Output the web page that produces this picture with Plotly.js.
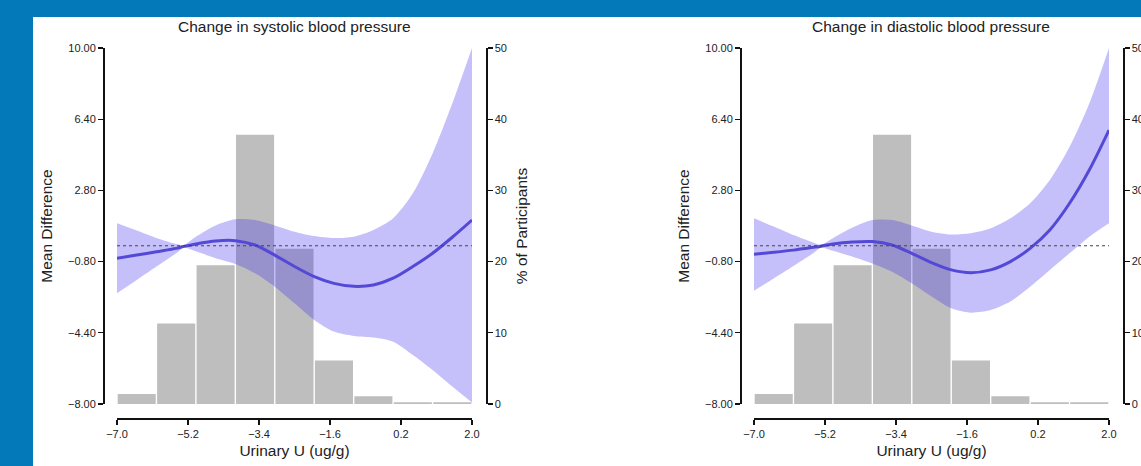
<!DOCTYPE html>
<html>
<head>
<meta charset="utf-8">
<script src="https://cdn.plot.ly/plotly-3.0.1.min.js"></script>
<style>html,body{margin:0;padding:0;background:#0479b9;}#chart{width:1141px;height:466px;}</style>
</head>
<body>
<div id="chart"></div>
<script>
// ---- data ----
const urinaryU = [-7, -6.5, -6, -5.5, -5.3, -5, -4.5, -4, -3.5, -3, -2.5, -2, -1.5, -1, -0.5, 0, 0.5, 1, 1.5, 2];

const sysMean  = [-0.63,-0.47,-0.30,-0.13,-0.03,0.09,0.24,0.26,0.04,-0.47,-1.05,-1.56,-1.90,-2.05,-1.98,-1.64,-1.05,-0.38,0.43,1.30];
const sysUpper = [1.14,0.77,0.39,0.09,0.05,0.46,1.03,1.34,1.30,1.03,0.71,0.49,0.39,0.46,0.80,1.39,2.65,4.67,7.20,10.0];
const sysLower = [-2.40,-1.73,-1.05,-0.38,-0.10,-0.28,-0.63,-0.92,-1.39,-2.07,-2.91,-3.75,-4.34,-4.56,-4.64,-4.85,-5.52,-6.28,-7.12,-7.93];

const diaMean  = [-0.43,-0.33,-0.22,-0.08,-0.02,0.09,0.19,0.21,0.04,-0.38,-0.85,-1.22,-1.36,-1.22,-0.80,-0.13,0.80,2.15,3.83,5.85];
const diaUpper = [1.39,0.97,0.54,0.17,0.06,0.38,0.92,1.30,1.30,1.03,0.71,0.57,0.63,0.88,1.39,2.15,3.33,5.01,7.20,10.0];
const diaLower = [-2.27,-1.65,-1.02,-0.38,-0.10,-0.25,-0.55,-0.89,-1.31,-1.90,-2.57,-3.16,-3.38,-3.25,-2.82,-2.07,-1.22,-0.38,0.46,1.14];

const binCenters = [-6.5, -5.5, -4.5, -3.5, -2.5, -1.5, -0.5, 0.5, 1.5];
const pctParticipants = [1.4, 11.3, 19.5, 37.8, 21.8, 6.1, 1.1, 0.25, 0.25];

const xTickVals = [-7, -5.2, -3.4, -1.6, 0.2, 2];
const xTickText = ["\u22127.0", "\u22125.2", "\u22123.4", "\u22121.6", "0.2", "2.0"];
const mdTickVals = [10, 6.4, 2.8, -0.8, -4.4, -8];
const mdTickText = ["10.00", "6.40", "2.80", "\u22120.80", "\u22124.40", "\u22128.00"];
const pctTickVals = [0, 10, 20, 30, 40, 50];
const baseline = 0;

const panelTitles = ["Change in systolic blood pressure", "Change in diastolic blood pressure"];
// the right panel's "% of Participants" title lies outside the visible picture in the reference
const pctTitles = ["% of Participants", ""];

// ---- styling ----
const W = 1141, H = 466;
const FONT = "Liberation Sans, Arial, Helvetica, sans-serif";
const bandColor = "rgba(62,48,238,0.30)";
const lineColor = "rgb(84,72,214)";
const barColor = "#bebebe";
const px = v => v / W;
const py = v => (H - v) / H;

const yDom = [py(404), py(48)];
const panels = [
  {xd: [px(117), px(472)], mdPos: px(103), pctPos: px(486), mean: sysMean, up: sysUpper, lo: sysLower},
  {xd: [px(754), px(1109)], mdPos: px(740), pctPos: px(1123), mean: diaMean, up: diaUpper, lo: diaLower}
];

const traces = [];
const layout = {
  width: W, height: H,
  margin: {l: 0, r: 0, t: 0, b: 0},
  paper_bgcolor: "#0479b9",
  plot_bgcolor: "rgba(0,0,0,0)",
  showlegend: false,
  bargap: 0.035,
  font: {family: FONT, color: "#222"},
  shapes: [{type: "rect", xref: "paper", yref: "paper", x0: px(33), x1: 1, y0: 0, y1: py(17),
            fillcolor: "#ffffff", line: {width: 0}, layer: "below"}],
  annotations: []
};

const tickFont = {family: FONT, size: 11, color: "#222"};
const titleFont = {family: FONT, size: 15.5, color: "#222"};

panels.forEach((p, i) => {
  const xa = i === 0 ? "x" : "x2";
  const yPct = i === 0 ? "y" : "y3";
  const yMd = i === 0 ? "y2" : "y4";
  const xKey = i === 0 ? "xaxis" : "xaxis2";
  const pctKey = i === 0 ? "yaxis" : "yaxis3";
  const mdKey = i === 0 ? "yaxis2" : "yaxis4";

  traces.push({type: "bar", x: binCenters, y: pctParticipants, xaxis: xa, yaxis: yPct,
               marker: {color: barColor, line: {width: 0}}, hoverinfo: "skip"});
  traces.push({type: "scatter", mode: "lines", x: urinaryU, y: p.up, xaxis: xa, yaxis: yMd,
               line: {width: 0, shape: "spline", smoothing: 0.8}, hoverinfo: "skip"});
  traces.push({type: "scatter", mode: "lines", x: urinaryU, y: p.lo, xaxis: xa, yaxis: yMd,
               fill: "tonexty", fillcolor: bandColor,
               line: {width: 0, shape: "spline", smoothing: 0.8}, hoverinfo: "skip"});
  traces.push({type: "scatter", mode: "lines", x: urinaryU, y: p.mean, xaxis: xa, yaxis: yMd,
               line: {width: 3, color: lineColor, shape: "spline", smoothing: 0.8}});

  layout[xKey] = {
    domain: p.xd, range: [-7, 2], anchor: "free", position: py(418),
    showline: true, linecolor: "#111", linewidth: 1.5, ticks: "outside", ticklen: 5,
    tickwidth: 1.2, tickcolor: "#111",
    tickvals: xTickVals, ticktext: xTickText, tickfont: tickFont,
    showgrid: false, zeroline: false,
    title: {text: "Urinary U (ug/g)", font: titleFont, standoff: 6}
  };
  layout[pctKey] = {
    domain: yDom, range: [0, 50], anchor: "free", position: p.pctPos, side: "right",
    showline: true, linecolor: "#111", linewidth: 1.5, ticks: "outside", ticklen: 5,
    tickwidth: 1.2, tickcolor: "#111",
    tickvals: pctTickVals, tickfont: tickFont, showgrid: false, zeroline: false,
    title: {text: pctTitles[i], font: titleFont, standoff: 10}
  };
  layout[mdKey] = {
    overlaying: yPct, range: [-8, 10], anchor: "free", position: p.mdPos, side: "left",
    showline: true, linecolor: "#111", linewidth: 1.5, ticks: "outside", ticklen: 5,
    tickwidth: 1.2, tickcolor: "#111",
    tickvals: mdTickVals, ticktext: mdTickText, tickfont: tickFont,
    showgrid: false, zeroline: false,
    title: {text: "Mean Difference", font: titleFont, standoff: 10}
  };

  layout.shapes.push({type: "line", xref: xa + " domain", yref: yMd, x0: 0, x1: 1,
                      y0: baseline, y1: baseline, line: {color: "#444", width: 1, dash: "dot"}});

  layout.annotations.push({text: panelTitles[i], xref: "paper", yref: "paper",
                           x: (p.xd[0] + p.xd[1]) / 2, y: py(27), xanchor: "center", yanchor: "middle",
                           showarrow: false, font: {family: FONT, size: 15.5, color: "#222"}});
});

Plotly.newPlot("chart", traces, layout, {displayModeBar: false, staticPlot: true});
</script>
</body>
</html>
